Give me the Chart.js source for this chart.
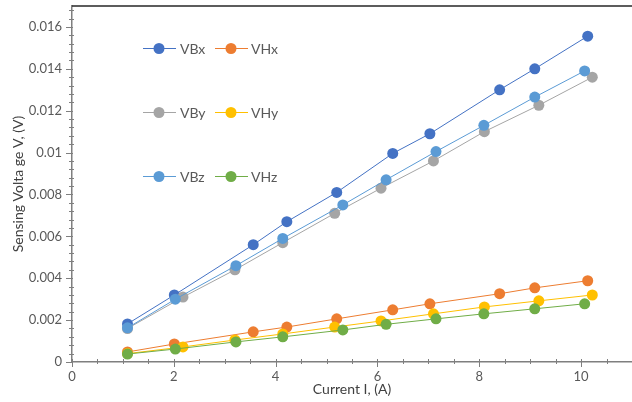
<!DOCTYPE html>
<html>
<head>
<meta charset="utf-8">
<script src="https://cdn.jsdelivr.net/npm/chart.js@4.4.0/dist/chart.umd.min.js"></script>
<style>
  html, body { margin: 0; padding: 0; background: #fff; }
  #wrap { width: 632px; height: 402px; position: relative; }
</style>
</head>
<body>
<div id="wrap"><canvas id="chart-sensing"></canvas></div>
<script>
// currents (A) for each pair of series
const currentX = [1.09, 2.01, 3.56, 4.22, 5.2, 6.3, 7.03, 8.4, 9.09, 10.13];
const currentY = [1.09, 2.18, 3.2, 4.14, 5.16, 6.07, 7.1, 8.1, 9.17, 10.22];
const currentZ = [1.09, 2.03, 3.22, 4.14, 5.32, 6.17, 7.15, 8.09, 9.09, 10.07];

// sensing voltages (V)
const vBx = [0.00182, 0.0032, 0.0056, 0.0067, 0.0081, 0.00996, 0.0109, 0.013, 0.014, 0.01556];
const vHx = [0.00048, 0.00086, 0.00144, 0.00167, 0.00206, 0.00249, 0.00278, 0.00326, 0.00354, 0.00388];
const vBy = [0.0016, 0.0031, 0.0044, 0.0057, 0.0071, 0.0083, 0.0096, 0.011, 0.01226, 0.0136];
const vHy = [0.0004, 0.00072, 0.00105, 0.00134, 0.00167, 0.00196, 0.0023, 0.00263, 0.00292, 0.0032];
const vBz = [0.00163, 0.003, 0.0046, 0.0059, 0.0075, 0.0087, 0.01005, 0.0113, 0.01265, 0.0139];
const vHz = [0.00038, 0.00062, 0.00096, 0.0012, 0.00153, 0.0018, 0.00206, 0.0023, 0.00254, 0.00278];

const seriesNames = ["VBx", "VHx", "VBy", "VHy", "VBz", "VHz"];
const xTickLabels = ["0", "2", "4", "6", "8", "10"];
const yTickLabels = ["0", "0.002", "0.004", "0.006", "0.008", "0.01", "0.012", "0.014", "0.016"];

document.addEventListener("DOMContentLoaded", main);

function main() {
  const colors = ["#4472C4", "#ED7D31", "#A5A5A5", "#FFC000", "#5B9BD5", "#70AD47"];
  const xs = [currentX, currentX, currentY, currentY, currentZ, currentZ];
  const ys = [vBx, vHx, vBy, vHy, vBz, vHz];

  const datasets = seriesNames.map((name, i) => ({
    label: name,
    data: xs[i].map((x, j) => ({ x: x, y: ys[i][j] })),
    borderColor: colors[i],
    backgroundColor: colors[i],
    borderWidth: 1,
    pointRadius: 5.5,
    pointBorderWidth: 0,
    showLine: true,
    order: 5 - i, // later series on top, like the original
  }));

  draw_sensing_chart(datasets, colors);
}

function draw_sensing_chart(datasets, colors) {
  const ctx = document.getElementById("chart-sensing").getContext("2d");
  const font = { family: "Lato, 'Open Sans', sans-serif", size: 13 };
  const titleFont = { family: "Lato, 'Open Sans', sans-serif", size: 14 };

  // minor ticks, top border line and the in-plot legend
  const extras = {
    id: "extras",
    afterDraw(chart) {
      const c = chart.ctx;
      const xs = chart.scales.x;
      const ys = chart.scales.y;
      const area = chart.chartArea;
      c.save();
      c.strokeStyle = "#7f7f7f";
      c.lineWidth = 1;
      // x ticks
      for (let v = 0; v <= 11.001; v += 0.5) {
        const px = Math.round(xs.getPixelForValue(v)) + 0.5;
        const major = Math.abs(v / 2 - Math.round(v / 2)) < 1e-6;
        c.beginPath();
        if (major) { c.moveTo(px, area.bottom - 3); c.lineTo(px, area.bottom + 5); }
        else { c.moveTo(px, area.bottom - 3); c.lineTo(px, area.bottom + 2); }
        c.stroke();
      }
      // y ticks
      for (let k = 0; k <= 42; k++) {
        const v = k * 0.0004;
        const py = Math.round(ys.getPixelForValue(v)) + 0.5;
        const major = k % 5 === 0;
        c.beginPath();
        if (major) { c.moveTo(area.left - 6, py); c.lineTo(area.left + 1, py); }
        else { c.moveTo(area.left - 3, py); c.lineTo(area.left + 2, py); }
        c.stroke();
      }
      // top border
      c.strokeStyle = "#262626";
      c.lineWidth = 1.5;
      c.beginPath();
      c.moveTo(area.left, area.top);
      c.lineTo(area.right, area.top);
      c.stroke();

      // legend: 2 columns, 3 rows
      const cols = [{ x0: 143, x1: 176, dot: 159, text: 180 }, { x0: 215, x1: 248, dot: 231, text: 251 }];
      const rows = [48, 112, 176];
      c.font = "14px Lato, 'Open Sans', sans-serif";
      c.textBaseline = "middle";
      c.textAlign = "left";
      seriesNames.forEach((name, i) => {
        const col = cols[i % 2];
        const y = rows[Math.floor(i / 2)];
        c.strokeStyle = colors[i];
        c.lineWidth = 1;
        c.beginPath();
        c.moveTo(col.x0, y + 0.5);
        c.lineTo(col.x1, y + 0.5);
        c.stroke();
        c.fillStyle = colors[i];
        c.beginPath();
        c.arc(col.dot, y + 0.5, 5.5, 0, Math.PI * 2);
        c.fill();
        c.fillStyle = "#595959";
        c.fillText(name, col.text, y + 1);
      });
      c.restore();
    },
  };

  new Chart(ctx, {
    type: "scatter",
    data: { datasets: datasets },
    plugins: [extras],
    options: {
      responsive: true,
      maintainAspectRatio: false,
      animation: false,
      layout: { autoPadding: false, padding: { left: 10, top: 6, right: 0, bottom: 4 } },
      plugins: {
        legend: { display: false },
        tooltip: { enabled: false },
      },
      scales: {
        x: {
          type: "linear",
          min: 0,
          max: 11,
          afterFit: (s) => { s.height = 36; s.paddingLeft = 0; s.paddingRight = 0; },
          grid: { display: true, drawOnChartArea: false, drawTicks: false },
          border: { display: true, color: "#7f7f7f", width: 1.5 },
          ticks: {
            stepSize: 2,
            autoSkip: false,
            maxRotation: 0,
            padding: 7,
            color: "#595959",
            font: font,
            callback: (v) => {
              const i = xTickLabels.indexOf(String(Math.round(v * 1000) / 1000));
              return i >= 0 ? xTickLabels[i] : "";
            },
          },
          title: {
            display: true,
            text: "Current I, (A)",
            color: "#404040",
            font: titleFont,
            padding: 0,
          },
        },
        y: {
          min: 0,
          max: 0.017,
          afterFit: (s) => { s.width = 62; s.paddingTop = 0; s.paddingBottom = 0; },
          grid: { display: true, drawOnChartArea: false, drawTicks: false },
          border: { display: true, color: "#7f7f7f", width: 1.5 },
          ticks: {
            stepSize: 0.002,
            autoSkip: false,
            padding: 10,
            color: "#595959",
            font: font,
            callback: (v) => {
              const i = yTickLabels.indexOf(String(Math.round(v * 10000) / 10000));
              return i >= 0 ? yTickLabels[i] : "";
            },
          },
          title: {
            display: true,
            text: "Sensing Volta ge V, (V)",
            color: "#404040",
            font: titleFont,
            padding: 0,
          },
        },
      },
    },
  });
}
</script>
</body>
</html>
